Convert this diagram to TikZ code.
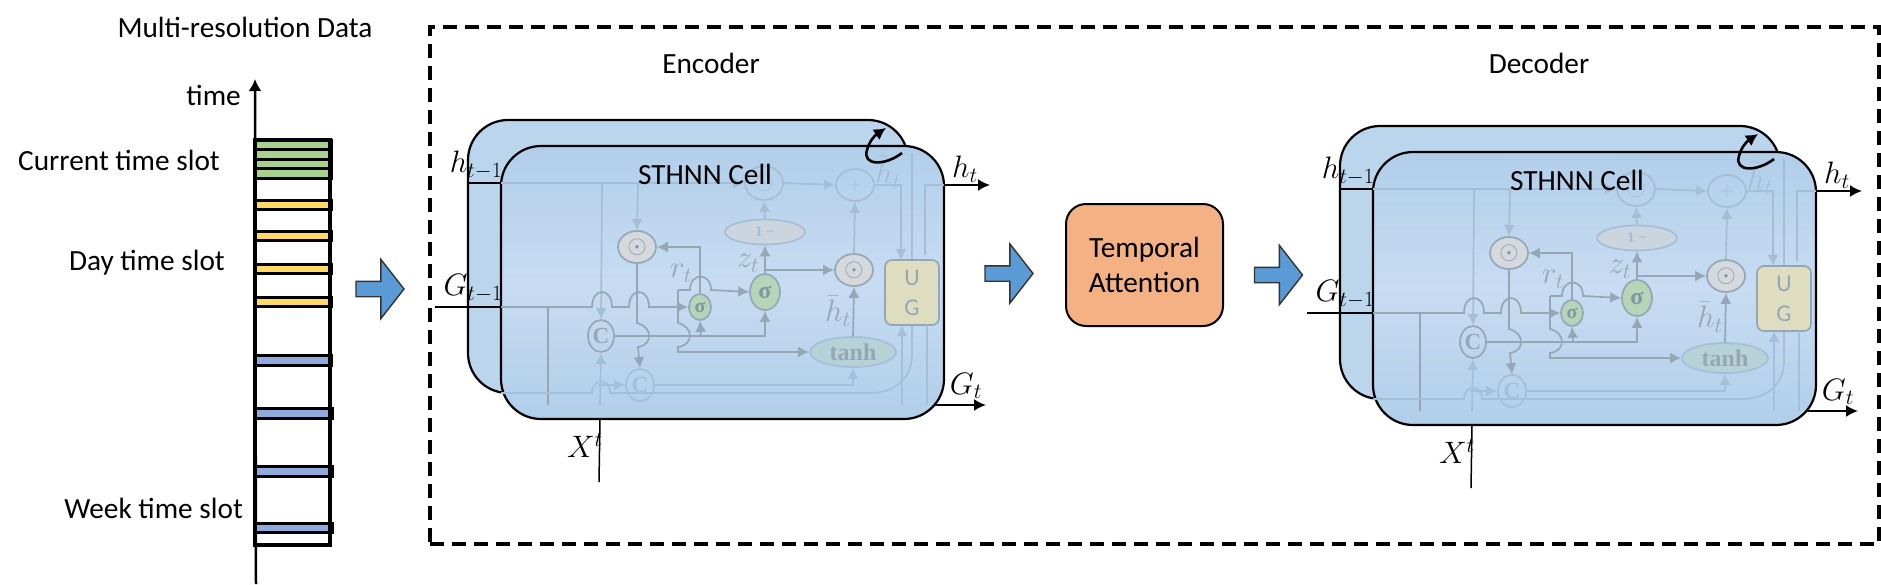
\documentclass[tikz,border=0pt]{standalone}
\usepackage{fix-cm}
\usepackage{amsmath,amssymb}
\usepackage{fontspec}
\setmainfont{Carlito}
\newfontfamily\cellfont{Liberation Serif}
\usetikzlibrary{arrows.meta,positioning,shapes.geometric,shapes.arrows}
\definecolor{slotgreen}{HTML}{A9D18E}
\definecolor{slotyellow}{HTML}{FFD966}
\definecolor{slotblue}{HTML}{8FAADC}
\definecolor{arrowblue}{HTML}{5B9BD5}
\definecolor{attnorange}{HTML}{F4B183}
\definecolor{cellback}{HTML}{BBD5ED}
\definecolor{celledge}{HTML}{B1CEE9}
\definecolor{cellmiddle}{HTML}{C7DCF2}
\definecolor{greymid}{HTML}{95A7B5}
\definecolor{greytop}{HTML}{A6BED5}
\definecolor{greylow}{HTML}{A4BFD9}
\definecolor{gatetext}{HTML}{7F96A3}
\definecolor{sigmafill}{HTML}{B5D5B8}
\definecolor{tanhfill}{HTML}{B6D2D6}
\definecolor{updatefill}{HTML}{DEDDBF}
\definecolor{dotfill}{HTML}{D5D9DE}
\definecolor{minusfill}{HTML}{CBD5E0}
\newcommand{\bigtext}{\fontsize{29.3}{35}\selectfont}
\newcommand{\mathtext}{\fontsize{31}{36}\selectfont}
\tikzset{
  wire/.style={draw=greymid, line width=1.7pt},
  wirein/.style={wire, -{Latex[length=11pt,width=11pt]}},
  wiretop/.style={wire, draw=greytop},
  wiretopin/.style={wirein, draw=greytop},
  wirelow/.style={wire, draw=greylow},
  wirelowin/.style={wirein, draw=greylow},
  blackline/.style={draw=black, line width=2pt},
  blackin/.style={blackline, -{Latex[length=12pt,width=12pt]}},
  gate/.style={ellipse, draw=greymid, line width=1.7pt, inner sep=0pt, text=gatetext},
  gatetop/.style={gate, draw=greytop, text=greytop},
  gatelow/.style={gate, draw=greylow, text=greylow},
  cellbox/.style={draw=black, line width=2.2pt, rounded corners=40pt, minimum width=443pt, minimum height=273pt},
  blockarrow/.style={single arrow, draw=black!80, line width=1.4pt, fill=arrowblue, inner xsep=0pt, inner ysep=7pt, minimum height=48pt, single arrow head extend=22pt, single arrow tip angle=104},
  pics/sthnncell/.style={code={
    % back cell and the black stubs
    \node[cellbox, fill=cellback, minimum width=440pt] (-back) at (688,256.5) {};
    \coordinate (-hstart) at (469,183); \coordinate (-hin) at (501,183);
    \coordinate (-gstart) at (435,307); \coordinate (-gin) at (501,307);
    \coordinate (-hout) at (944,185); \coordinate (-hend) at (990,185);
    \coordinate (-gout) at (930,405); \coordinate (-gend) at (986,405);
    \coordinate (-xfoot) at (599,482); \coordinate (-xtop) at (600,419);
    \draw[blackline] (-hstart) -- (-hin);
    \draw[blackline] (-gstart) -- (-gin);
    \draw[blackin] (-hout) -- (-hend);
    \draw[blackin] (-gout) -- (-gend);
    \draw[blackline, line width=1.5pt] (-xfoot) -- (-xtop);
    \node[cellbox, top color=celledge, bottom color=celledge, middle color=cellmiddle] (-front) at (722.5,282.5) {};
    % gates
    \node[gate, fill=dotfill, minimum width=38pt, minimum height=32pt, font=\fontsize{25}{25}\selectfont] (-dotone) at (637,247) {$\odot$};
    \node[gatetop, minimum width=38pt, minimum height=34pt, font=\fontsize{25}{25}\selectfont] (-dottwo) at (764,183) {$\odot$};
    \node[gate, fill=dotfill, minimum width=38pt, minimum height=32pt, font=\fontsize{25}{25}\selectfont] (-dotthree) at (854,270) {$\odot$};
    \node[gatetop, minimum width=38pt, minimum height=32pt, font=\fontsize{20}{20}\selectfont] (-plus) at (855,185) {$+$};
    \node[gate, fill=minusfill, draw=greytop, text=greytop, minimum width=80pt, minimum height=25pt, font=\cellfont\fontsize{15}{15}\selectfont\bfseries] (-oneminus) at (765,232) {1 −};
    \node[gate, fill=sigmafill, minimum width=22pt, minimum height=26pt, font=\cellfont\fontsize{20}{20}\selectfont\bfseries] (-sigr) at (700,307) {σ};
    \node[gate, fill=sigmafill, minimum width=30pt, minimum height=36pt, font=\cellfont\fontsize{24}{24}\selectfont\bfseries] (-sigz) at (765,292) {σ};
    \node[gate, text=greymid, minimum width=26pt, minimum height=32pt, font=\cellfont\fontsize{23}{23}\selectfont\bfseries] (-cone) at (601,336) {C};
    \node[gatelow, minimum width=28pt, minimum height=32pt, font=\cellfont\fontsize{23}{23}\selectfont\bfseries] (-ctwo) at (640,385) {C};
    \node[gate, fill=tanhfill, draw=greylow, text=greymid, minimum width=86pt, minimum height=30pt, font=\cellfont\fontsize{24}{24}\selectfont\bfseries] (-tanh) at (853,352) {tanh};
    \node[draw=greymid, line width=1.7pt, rounded corners=7pt, fill=updatefill, text=greymid, minimum width=54pt, minimum height=65pt, align=center, inner sep=0pt, font=\fontsize{24}{30}\selectfont] (-ug) at (912,292.5) {U\\G};
    % free ends of the wires
    \coordinate (-tapc) at (602,183); \coordinate (-tapdot) at (638,183);
    \coordinate (-fork) at (678,290); \coordinate (-zfork) at (765,270);
    \coordinate (-uin) at (901,260); \coordinate (-uup) at (902,405); \coordinate (-ufoot) at (902,325);
    \coordinate (-rise) at (701,336); \coordinate (-gdrop) at (548,307); \coordinate (-gfoot) at (548,405);
    \coordinate (-xup) at (600,405); \coordinate (-xright) at (598,385);
    \coordinate (-rail) at (912,153); \coordinate (-bottom) at (501,393);
    \coordinate (-outer) at (925,255); \coordinate (-outerb) at (927,325); \coordinate (-outerc) at (927,405);
    % wires
    \draw[wiretopin] (-hin) -- (-dottwo.west);
    \draw[wiretopin] (-dottwo.east) -- (-plus.west);
    \draw[wiretopin] (-plus.east) -| (-uin);
    \draw[wiretopin] (-tapc) -- (-cone.north);
    \draw[wiretopin] (-tapdot) -- (-dotone.north);
    \draw[wire] (-gin) -- (592,307) .. controls (592,287) and (612,287) .. (612,307) -- (629,307) .. controls (629,287) and (649,287) .. (649,307) -- (660,307);
    \draw[wirein] (660,307) -- (-sigr.west);
    \draw[wire] (-gdrop) -- (-gfoot);
    \draw[wirein] (-sigr.north) |- (-dotone.east);
    \draw[wirein] (-fork) -- (690,290) .. controls (690,272) and (711,272) .. (711,290) -- (-sigz.west);
    \draw[wirein] (-fork) -- (678,323) .. controls (694,327) and (694,345) .. (678,347) -- (678,352) -- (-tanh.west);
    \draw[wirein] (-cone.east) -| (-sigz.south);
    \draw[wirein] (-rise) -- (-sigr.south);
    \draw[wirein] (-dotone.south) -- (637,323) .. controls (653,327) and (653,345) .. (638,347) -- (-ctwo.north);
    \draw[wirelowin] (-ctwo.east) -| (-tanh.south);
    \draw[wirein] (-tanh.north) -- (-dotthree.south);
    \draw[wiretopin] (-dotthree.north) -- (-plus.south);
    \draw[wirein] (-sigz.north) -- (-oneminus.south);
    \draw[wiretopin] (-oneminus.north) -- (-dottwo.south);
    \draw[wirein] (-zfork) -- (-dotthree.west);
    \draw[wirelowin] (-xup) -- (-cone.south);
    \draw[wirelowin] (-xright) -- (-ctwo.west);
    \draw[wiretop] (-rail) -- (-ug.north);
    \draw[wirelow] (-ug.south) -- (912,355) .. controls (912,378) and (895,393) .. (870,393) -- (610,393) .. controls (610,378) and (592,378) .. (592,393) -- (-bottom);
    \draw[wiretop] (-hout) -- (925,185) -- (-outer);
    \draw[wirelow] (-outerb) -- (-outerc);
    \draw[wirelowin] (-uup) -- (-ufoot);
    % labels
    \node[text=greymid, font=\mathtext] (-rlabel) at (681,273) {$r_t$};
    \node[text=greymid, font=\mathtext] (-zlabel) at (748,263) {$z_t$};
    \node[text=greymid, font=\mathtext] (-hbar) at (838,311) {$\bar{h}_t$};
    \node[text=greytop, font=\mathtext] (-htilde) at (888,172) {$\tilde{h}_t$};
    \node[font=\mathtext] (-hprev) at (476,165) {$h_{t-1}$};
    \node[font=\mathtext] (-gprev) at (473,288) {$G_{t-1}$};
    \node[font=\mathtext] (-hnow) at (965,169) {$h_t$};
    \node[font=\mathtext] (-gnow) at (966,386) {$G_t$};
    \node[font=\mathtext] (-xlabel) at (585,445) {$X^t$};
    \node[font=\bigtext] (-title) at (705,174) {STHNN Cell};
    % recurrent arrow
    \coordinate (-loopa) at (902,153); \coordinate (-loopb) at (886,128);
    \draw[black, line width=2.6pt, -{Latex[length=12pt,width=13pt]}] (-loopa) .. controls (885,166) and (862,166) .. (867,150) .. controls (869,142) and (874,136) .. (-loopb);
  }}
}
\begin{document}
\begin{tikzpicture}[x=1pt, y=-1pt, every node/.style={font=\bigtext}]
\path[use as bounding box] (0,0) rectangle (1881,584);
% data column
\coordinate (axisfoot) at (256,584); \coordinate (axistip) at (255,79);
\draw[line width=2.5pt, -{Latex[length=12pt,width=13pt]}] (axisfoot) -- (axistip);
\foreach \ya/\yb/\xb/\col in {140/149.3/331/slotgreen, 149.3/159.3/331/slotgreen, 159.3/168.7/331/slotgreen, 168.7/178/331/slotgreen,
  200/209/331/slotyellow, 231.3/240.7/331/slotyellow, 264/273/331/slotyellow, 297/306/331/slotyellow,
  355.6/365/331/slotblue, 408.6/418/332.5/slotblue, 466.4/476/332.5/slotblue, 523/532.5/332.5/slotblue}
  \draw[line width=3pt, fill=\col] (255,\ya) rectangle (\xb,\yb);
\draw[line width=3.5pt] (255,140) rectangle (330,545);
\node (datatitle) at (245,27) {Multi-resolution Data};
\node[anchor=east, inner sep=0pt] (timelabel) at (241,95) {time};
\node[anchor=east, inner sep=0pt] (currentlabel) at (220,160) {Current time slot};
\node[anchor=east, inner sep=0pt] (daylabel) at (225,263) {Day time slot};
\node[anchor=east, inner sep=0pt] (weeklabel) at (243,508) {Week time slot};
% model frame
\node[draw, line width=3.5pt, dash pattern=on 14pt off 8pt, minimum width=1449pt, minimum height=517pt, inner sep=0pt] (frame) at (1154.5,285.5) {};
\node (enctitle) at (711,63) {Encoder};
\node (dectitle) at (1539,63) {Decoder};
\pic (enc) at (0,0) {sthnncell};
\pic (dec) at (872,6) {sthnncell};
\node[blockarrow] (arrowa) at (377,289) {};
\node[blockarrow] (arrowb) at (1006,273.5) {};
\node[draw, line width=2pt, fill=attnorange, rounded corners=20pt, minimum width=157pt, minimum height=122pt, align=center, font=\fontsize{29.3}{35}\selectfont] (attention) at (1144.5,265) {Temporal\\Attention};
\node[blockarrow] (arrowc) at (1275.5,275) {};
\end{tikzpicture}
\end{document}
